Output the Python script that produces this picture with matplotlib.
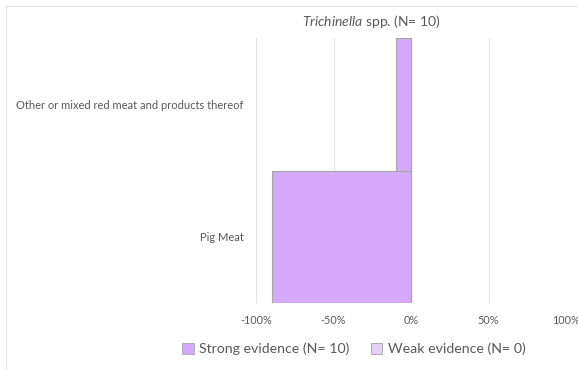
import numpy as np
import matplotlib
matplotlib.use("Agg")
import matplotlib.pyplot as plt
from matplotlib.lines import Line2D
from matplotlib.patches import Patch

# Data (share of evidence, strong shown as negative)
categories = ["Pig Meat", "Other or mixed red meat and products thereof"]
strong_share = [-0.90, -0.10]
weak_share = [0.0, 0.0]
tick_values = [-1.0, -0.5, 0.0, 0.5, 1.0]
tick_labels = ["-100%", "-50%", "0%", "50%", "100%"]
strong_label = "Strong evidence (N= 10)"
weak_label = "Weak evidence (N= 0)"

strong_color = "#d5aafc"
weak_color = "#e4d0fb"
edge_color = "#a6a6a6"
text_color = "#595959"
grid_color = "#e3e3e3"

plt.rcParams["font.family"] = ["Lato", "DejaVu Sans"]
plt.rcParams["mathtext.fontset"] = "custom"
plt.rcParams["mathtext.it"] = "Lato:italic"
plt.rcParams["mathtext.rm"] = "Lato"

fig = plt.figure(figsize=(5.78, 3.70), dpi=100)
ax = fig.add_axes([256 / 578, 1 - 303 / 370, 310 / 578, 265 / 370])

y = np.arange(len(categories))
ax.barh(y, strong_share, height=1.0, color=strong_color, edgecolor=edge_color, linewidth=0.8, zorder=3)
ax.barh(y, weak_share, height=1.0, color=weak_color, edgecolor=edge_color, linewidth=0.8, zorder=3)

ax.set_xlim(-1.0, 1.0)
ax.set_ylim(-0.5, len(categories) - 0.5)
ax.set_xticks(tick_values)
ax.set_xticklabels(tick_labels)
ax.set_yticks(y)
ax.set_yticklabels(categories)
ax.tick_params(axis="both", length=0, colors=text_color)
ax.tick_params(axis="x", pad=9, labelsize=7.8)
ax.tick_params(axis="y", pad=9, labelsize=8.0)
ax.grid(axis="x", color=grid_color, linewidth=0.8, zorder=0)
for s in ax.spines.values():
    s.set_visible(False)

# title with italic genus name
fig.text(371 / 578, 1 - 22 / 370, r"$\it{Trichinella}$ spp. (N= 10)", ha="center", va="center",
         fontsize=10, color=text_color)

# legend
handles = [Patch(facecolor=strong_color, edgecolor=edge_color, linewidth=0.6),
           Patch(facecolor=weak_color, edgecolor=edge_color, linewidth=0.6)]
fig.legend(handles, [strong_label, weak_label], loc="center", bbox_to_anchor=(354 / 578, 1 - 349 / 370),
           ncol=2, frameon=False, fontsize=10.2, labelcolor=text_color, handlelength=0.8, handleheight=0.8,
           handletextpad=0.4, columnspacing=1.5)

# chart frame (only top and left edges visible)
fig.add_artist(Line2D([6 / 578, 1.0], [1 - 6 / 370, 1 - 6 / 370], transform=fig.transFigure, color=grid_color, linewidth=0.8))
fig.add_artist(Line2D([6 / 578, 6 / 578], [0.0, 1 - 6 / 370], transform=fig.transFigure, color=grid_color, linewidth=0.8))

fig.savefig("out.png", dpi=100)
